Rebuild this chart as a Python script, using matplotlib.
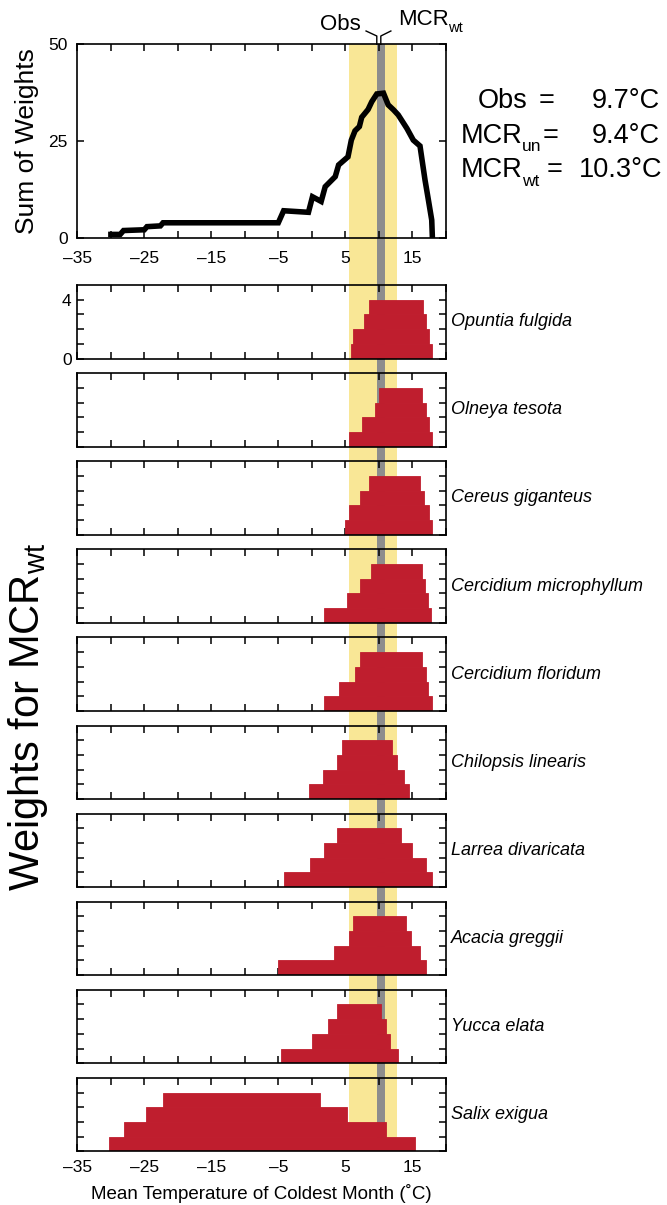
import matplotlib
matplotlib.use("Agg")
import matplotlib.pyplot as plt
from matplotlib.lines import Line2D
from matplotlib.transforms import blended_transform_factory
import numpy as np

plt.rcParams['font.family'] = ['Liberation Sans', 'DejaVu Sans']
plt.rcParams['mathtext.fontset'] = 'custom'
plt.rcParams['mathtext.rm'] = 'Liberation Sans'
plt.rcParams['mathtext.it'] = 'Liberation Sans:italic'

# ---------------- data ----------------
sum_temp = [-30.4, -28.6, -28.1, -25.0, -24.6, -22.6, -22.2, -5.0, -4.2, -0.5, 0.1, 1.4,
            2.0, 3.5, 4.0, 5.4, 5.9, 6.45, 7.1, 7.45, 8.4, 8.95, 9.7, 10.7, 11.4, 12.2,
            12.9, 14.2, 15.15, 16.15, 16.9, 17.4, 17.9, 18.0]
sum_weight = [1.0, 1.0, 2.0, 2.2, 3.0, 3.2, 4.0, 4.0, 7.1, 6.7, 10.7, 9.5,
              13.3, 15.9, 18.9, 21.0, 25.3, 27.7, 28.8, 31.2, 33.2, 35.2, 37.2, 37.4, 34.4, 33.1,
              31.8, 28.3, 25.3, 23.8, 15.0, 9.9, 4.7, 0.0]

obs_value = 9.7
mcr_un_value = 9.4
mcr_wt_value = 10.3
mcr_range = [5.5, 12.7]

species = ["Opuntia fulgida", "Olneya tesota", "Cereus giganteus",
           "Cercidium microphyllum", "Cercidium floridum", "Chilopsis linearis",
           "Larrea divaricata", "Acacia greggii", "Yucca elata", "Salix exigua"]

# weight levels 1..4 (bottom to top): low and high temperature limits
opuntia_lo = [5.8, 6.2, 7.8, 8.6]
opuntia_hi = [18.0, 17.5, 17.0, 16.6]
olneya_lo = [5.5, 7.5, 9.4, 10.1]
olneya_hi = [18.0, 17.5, 17.0, 16.5]
cereus_lo = [5.0, 5.6, 7.2, 8.6]
cereus_hi = [18.0, 17.5, 16.8, 16.2]
cmicro_lo = [1.8, 5.2, 7.2, 8.9]
cmicro_hi = [17.8, 17.4, 16.9, 16.4]
cflor_lo = [1.8, 4.0, 6.4, 7.2]
cflor_hi = [18.0, 17.4, 17.0, 16.5]
chilopsis_lo = [-0.4, 1.6, 3.7, 4.5]
chilopsis_hi = [14.5, 13.8, 12.7, 11.9]
larrea_lo = [-4.2, -0.3, 1.8, 3.7]
larrea_hi = [18.0, 17.0, 15.0, 13.3]
acacia_lo = [-5.0, 3.3, 5.6, 6.2]
acacia_hi = [17.0, 16.2, 14.8, 14.1]
yucca_lo = [-4.6, 0.0, 2.4, 3.7]
yucca_hi = [12.8, 11.6, 11.1, 10.3]
salix_lo = [-30.2, -28.1, -24.8, -22.2]
salix_hi = [15.4, 11.1, 5.3, 1.2]

species_lo = [opuntia_lo, olneya_lo, cereus_lo, cmicro_lo, cflor_lo,
              chilopsis_lo, larrea_lo, acacia_lo, yucca_lo, salix_lo]
species_hi = [opuntia_hi, olneya_hi, cereus_hi, cmicro_hi, cflor_hi,
              chilopsis_hi, larrea_hi, acacia_hi, yucca_hi, salix_hi]

xticks_all = list(range(-35, 21, 5))
xtick_labels = ['–35', '', '–25', '', '–15', '', '–5', '', '5', '', '15', '']

# ---------------- layout ----------------
W, H = 667, 1205
fig = plt.figure(figsize=(W / 100, H / 100), dpi=100)
fig.patch.set_facecolor('white')


def rect(x0, y0, x1, y1):
    return [x0 / W, 1 - y1 / H, (x1 - x0) / W, (y1 - y0) / H]


def ftext(xpx, ypx, s, **kw):
    return fig.text(xpx / W, 1 - ypx / H, s, **kw)


L, R = 77.3, 445.8
TOP0, TOP1 = 44.3, 238.3
P0, PSTEP, PH = 285.0, 88.1, 73.5
last_bottom = P0 + 9 * PSTEP + PH

RED = '#BF1E2E'
YELLOW = '#F9E796'
GRAY = '#8D8D8D'
XLIM = (-35, 20)

# band axes behind everything
band_ax = fig.add_axes(rect(L, TOP0, R, last_bottom))
band_ax.set_xlim(*XLIM)
band_ax.set_ylim(0, 1)
band_ax.axis('off')
band_ax.set_zorder(0)
band_ax.axvspan(mcr_range[0], mcr_range[1], color=YELLOW, lw=0)
band_ax.axvspan(obs_value, obs_value + 1.2, color=GRAY, lw=0)


def style_axes(ax):
    ax.set_facecolor('none')
    ax.set_zorder(1)
    for s in ax.spines.values():
        s.set_linewidth(1.2)
        s.set_color('black')
    ax.tick_params(direction='in', length=5, width=1.1, top=True, right=True,
                   labelsize=12.5, color='black')
    ax.set_xlim(*XLIM)


# ---- top panel ----
top_ax = fig.add_axes(rect(L, TOP0, R, TOP1))
style_axes(top_ax)
top_ax.plot(sum_temp, sum_weight, color='black', lw=4, solid_joinstyle='miter',
            solid_capstyle='butt', zorder=3)
top_ax.set_ylim(0, 50)
top_ax.set_yticks([0, 25, 50])
top_ax.set_xticks(xticks_all)
top_ax.set_xticklabels(xtick_labels)
top_ax.tick_params(axis='x', pad=9.5)
top_ax.tick_params(axis='y', pad=7)

ftext(34, 141, 'Sum of Weights', rotation=90, rotation_mode='anchor',
      ha='center', va='baseline', fontsize=19)

# brackets pointing at Obs and MCR_wt
bt = blended_transform_factory(top_ax.transData, top_ax.transAxes)
def fy(ypx):
    return (TOP1 - ypx) / (TOP1 - TOP0)
top_ax.add_line(Line2D([8.1, obs_value, obs_value], [fy(31), fy(36), fy(TOP0)],
                       transform=bt, color='black', lw=1, clip_on=False))
top_ax.add_line(Line2D([11.8, mcr_wt_value, mcr_wt_value], [fy(31), fy(36), fy(TOP0)],
                       transform=bt, color='black', lw=1, clip_on=False))
ftext(361, 30, 'Obs', ha='right', va='baseline', fontsize=16)
ftext(398.5, 25, 'MCR', ha='left', va='baseline', fontsize=16)
ftext(448, 31.5, 'wt', ha='left', va='baseline', fontsize=10.5)

# summary text
fs = 19.5
sfs = 12.5
ftext(478, 108, 'Obs', ha='left', va='baseline', fontsize=fs)
ftext(547, 108, '=', ha='center', va='baseline', fontsize=fs)
ftext(660, 108, f'{obs_value:.1f}°C', ha='right', va='baseline', fontsize=fs)

ftext(460.5, 143, 'MCR', ha='left', va='baseline', fontsize=fs)
ftext(521.5, 151, 'un', ha='left', va='baseline', fontsize=sfs)
ftext(551, 143, '=', ha='center', va='baseline', fontsize=fs)
ftext(660, 143, f'{mcr_un_value:.1f}°C', ha='right', va='baseline', fontsize=fs)

ftext(460.5, 177, 'MCR', ha='left', va='baseline', fontsize=fs)
ftext(522, 186, 'wt', ha='left', va='baseline', fontsize=sfs)
ftext(555, 177, '=', ha='center', va='baseline', fontsize=fs)
ftext(662, 177, f'{mcr_wt_value:.1f}°C', ha='right', va='baseline', fontsize=fs)

# ---- species panels ----
levels = np.arange(4)
for i, name in enumerate(species):
    t = P0 + i * PSTEP
    ax = fig.add_axes(rect(L, t, R, t + PH))
    style_axes(ax)
    lo = np.array(species_lo[i])
    hi = np.array(species_hi[i])
    ax.barh(levels + 0.5, hi - lo, left=lo, height=1.0, color=RED,
            edgecolor=RED, linewidth=0.6, zorder=2)
    ax.set_ylim(0, 5)
    ax.set_yticks([0, 1, 2, 3, 4])
    ax.set_xticks(xticks_all)
    if i == 0:
        ax.set_yticklabels(['0', '', '', '', '4'])
    else:
        ax.set_yticklabels([])
    ax.tick_params(axis='y', pad=4)
    if i == len(species) - 1:
        ax.set_xticklabels(xtick_labels)
        ax.tick_params(axis='x', pad=6)
        ax.set_xlabel('Mean Temperature of Coldest Month (˚C)', fontsize=13.5, labelpad=7)
    else:
        ax.set_xticklabels([])
    ax.text(1.014, 0.5, name, transform=ax.transAxes, style='italic', fontsize=13,
            ha='left', va='center')

ftext(39, 717, r'Weights for MCR$_{\mathrm{wt}}$', rotation=90,
      rotation_mode='anchor', ha='center', va='baseline', fontsize=30)

fig.savefig('out.png', dpi=100, facecolor='white')
